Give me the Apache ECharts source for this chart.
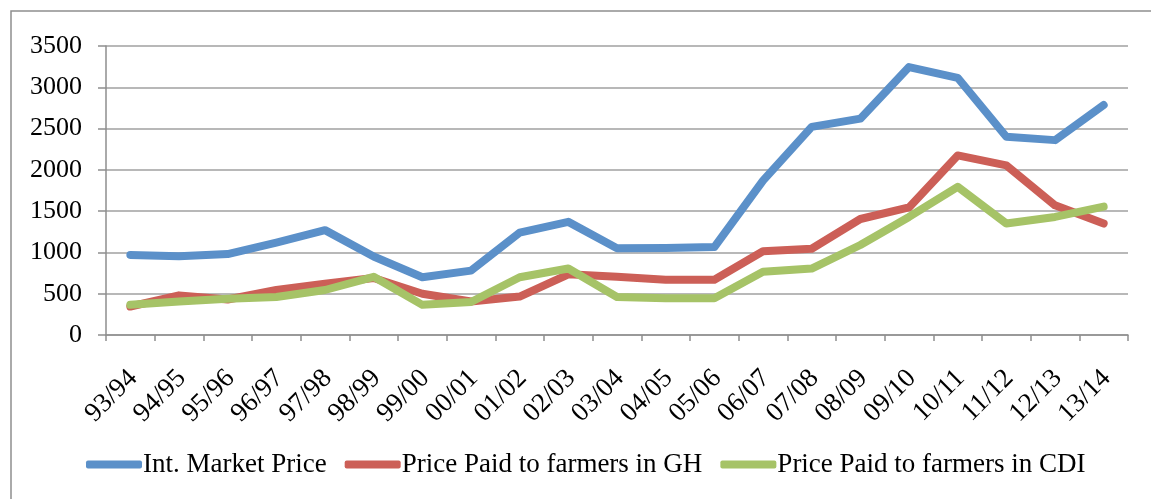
<!DOCTYPE html>
<html>
<head>
<meta charset="utf-8">
<script src="https://cdn.jsdelivr.net/npm/echarts@6/dist/echarts.min.js"></script>
<style>
html,body{margin:0;padding:0;background:#fff;}
#chart{width:1151px;height:499px;}
</style>
</head>
<body>
<div id="chart"></div>
<script>
const categories = ['93/94','94/95','95/96','96/97','97/98','98/99','99/00','00/01','01/02','02/03','03/04','04/05','05/06','06/07','07/08','08/09','09/10','10/11','11/12','12/13','13/14'];
const seriesNames = ['Int. Market Price','Price Paid to farmers in GH','Price Paid to farmers in CDI'];
const intMarketPrice = [970, 955, 980, 1120, 1270, 950, 700, 780, 1240, 1370, 1050, 1055, 1065, 1870, 2520, 2620, 3245, 3115, 2400, 2360, 2785];
const priceGH = [345, 480, 430, 545, 620, 690, 500, 405, 465, 735, 705, 670, 670, 1015, 1045, 1405, 1545, 2175, 2055, 1570, 1350];
const priceCDI = [365, 405, 440, 460, 545, 705, 365, 400, 700, 805, 460, 445, 445, 765, 805, 1090, 1430, 1795, 1350, 1430, 1555];
const yTicks = [0, 500, 1000, 1500, 2000, 2500, 3000, 3500];

const colors = ['#5b90c9', '#cc5f57', '#a6c367'];
const font = 'Liberation Serif, Times New Roman, serif';
const chart = echarts.init(document.getElementById('chart'), null, {renderer: 'canvas'});
const values = [intMarketPrice, priceGH, priceCDI];
chart.setOption({
  animation: false,
  backgroundColor: '#ffffff',
  color: colors,
  graphic: [{
    type: 'rect', silent: true, z: -1,
    shape: {x: 11, y: 11, width: 1200, height: 600},
    style: {fill: 'none', stroke: '#8e8e8e', lineWidth: 1.5}
  }],
  grid: {left: 106, right: 23, top: 46, bottom: 164, containLabel: false},
  legend: {
    left: 81, top: 446,
    itemWidth: 56, itemHeight: 8, itemGap: 18,
    icon: 'roundRect',
    textStyle: {fontFamily: font, fontSize: 27, color: '#000', padding: [0,0,0,-4]},
    data: seriesNames
  },
  xAxis: {
    type: 'category',
    data: categories,
    boundaryGap: true,
    axisLine: {lineStyle: {color: '#8e8e8e', width: 1.5}},
    axisTick: {show: true, length: 6, alignWithLabel: false, lineStyle: {color: '#8e8e8e', width: 1.5}},
    axisLabel: {rotate: 45, margin: 42, padding: [0, -4, 0, 0], fontFamily: font, fontSize: 27, color: '#000', interval: 0}
  },
  yAxis: {
    type: 'value',
    min: yTicks[0], max: yTicks[yTicks.length-1], interval: 500,
    axisLine: {show: true, lineStyle: {color: '#8e8e8e', width: 1.5}},
    axisTick: {show: true, length: 8, lineStyle: {color: '#8e8e8e', width: 1.5}},
    axisLabel: {margin: 24, fontFamily: font, fontSize: 26, color: '#000', formatter: v => String(v)},
    splitLine: {lineStyle: {color: '#a0a0a0', width: 1.5}}
  },
  series: seriesNames.map((n, i) => ({
    name: n,
    type: 'line',
    data: values[i],
    symbol: 'none',
    lineStyle: {width: 8, color: colors[i], cap: 'round', join: 'round'},
    itemStyle: {color: colors[i]}
  }))
});
</script>
</body>
</html>
